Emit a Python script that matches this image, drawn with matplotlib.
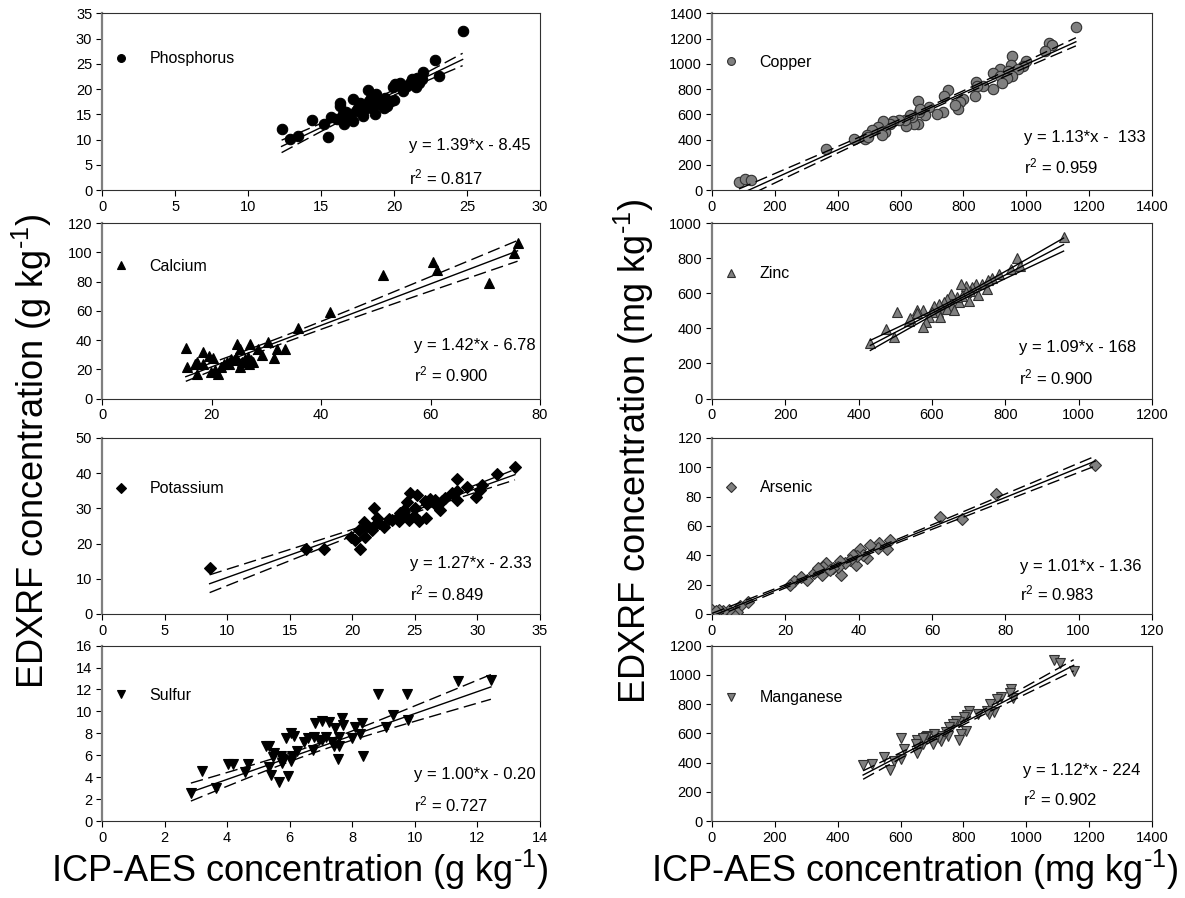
import numpy as np
import matplotlib
matplotlib.use("Agg")
from matplotlib import pyplot as plt

plt.rcParams['font.family'] = ['Liberation Sans', 'DejaVu Sans']
plt.rcParams['mathtext.default'] = 'regular'

# ------------------------------------------------------------------ data (g/kg)
p_x = [24.7, 22.8, 23.1, 12.3, 12.9, 13.4, 14.4, 15.2, 15.5, 15.7, 16.1, 16.3, 16.3,
       16.6, 16.7, 17.0, 17.2, 17.2, 17.5, 17.7, 17.9, 18.0, 18.2, 18.3, 18.4, 18.5,
       18.7, 18.8, 18.8, 19.1, 19.3, 19.4, 19.8, 19.9, 20.0, 20.1, 20.4, 20.6, 21.1,
       21.2, 21.5, 21.6, 21.9, 22.0, 16.5, 17.4, 17.9, 19.0, 19.5, 20.9, 21.7]
p_y = [31.5, 25.7, 22.7, 12.0, 10.2, 10.7, 13.8, 13.1, 10.6, 14.5, 14.0, 17.2, 16.7,
       13.0, 15.5, 14.3, 18.0, 13.7, 16.3, 17.3, 14.7, 16.0, 19.9, 17.7, 18.3, 16.3,
       15.0, 18.0, 19.0, 17.3, 16.3, 18.3, 17.7, 20.5, 17.8, 21.0, 21.3, 19.7, 21.3,
       22.0, 20.5, 22.2, 22.0, 23.3, 15.0, 15.7, 16.7, 17.0, 16.7, 20.7, 21.3]

ca_x = [75.9, 75.3, 70.7, 60.4, 61.2, 51.3, 41.6, 35.8, 33.5, 31.9, 31.4, 30.3, 29.3,
        28.4, 27.0, 27.3, 26.7, 25.6, 25.2, 24.7, 25.2, 24.4, 23.5, 22.9, 22.3, 21.7,
        21.1, 20.7, 20.3, 19.6, 18.5, 18.5, 17.4, 17.4, 17.0, 15.6, 15.3, 26.2, 24.1,
        23.2, 19.9, 26.9, 27.5]
ca_y = [106.4, 99.5, 79.3, 93.4, 87.7, 84.3, 59.0, 48.3, 34.2, 34.2, 28.0, 38.7, 29.6,
        34.2, 37.6, 26.2, 28.5, 25.1, 34.2, 37.1, 21.6, 28.5, 27.3, 25.1, 23.9, 21.6,
        17.1, 19.4, 28.0, 28.9, 31.9, 23.9, 16.6, 25.1, 23.9, 21.6, 34.6, 27.3, 26.2,
        23.9, 18.2, 23.9, 25.1]

k_x = [33.0, 31.6, 30.4, 30.2, 29.9, 29.2, 28.4, 28.4, 28.4, 28.0, 27.4, 27.0, 27.2,
       26.6, 26.2, 25.8, 25.9, 26.0, 25.3, 25.2, 25.0, 24.9, 24.6, 24.5, 24.4, 24.1,
       23.8, 23.7, 23.6, 22.9, 22.5, 22.1, 22.0, 21.8, 21.7, 21.6, 21.2, 21.0, 20.9,
       20.5, 20.6, 20.2, 19.9, 17.7, 16.3, 8.6, 26.6, 24.2, 23.2]
k_y = [41.7, 39.8, 36.7, 35.3, 33.1, 36.1, 38.3, 34.8, 32.4, 34.3, 32.9, 29.6, 32.0,
       32.4, 32.6, 32.0, 27.2, 31.1, 26.3, 33.9, 30.1, 27.9, 34.3, 26.8, 31.7, 29.6,
       28.7, 26.3, 27.2, 26.9, 24.6, 25.8, 27.2, 25.3, 30.1, 23.9, 24.9, 21.8, 26.0,
       23.9, 18.5, 21.1, 22.0, 18.5, 18.4, 13.0, 31.1, 28.1, 26.7]

s_x = [12.43, 11.37, 9.75, 8.82, 9.78, 9.29, 9.09, 8.33, 8.31, 8.10, 8.26, 7.99, 7.67,
       7.70, 7.57, 7.57, 7.55, 7.44, 7.36, 7.41, 7.27, 7.16, 7.04, 6.93, 6.82, 6.77,
       6.74, 6.59, 6.45, 6.24, 6.13, 6.03, 6.03, 5.95, 5.87, 5.78, 5.74, 5.66, 5.50,
       5.39, 5.34, 5.34, 5.23, 4.68, 4.57, 4.19, 4.04, 3.64, 3.19, 2.84, 5.45, 6.08,
       7.04, 5.71]
s_y = [12.9, 12.8, 11.6, 11.6, 9.2, 9.7, 8.6, 5.9, 8.9, 8.6, 7.9, 7.6, 9.4, 8.8, 7.7,
       6.8, 5.7, 8.5, 7.2, 6.8, 9.0, 7.7, 9.1, 7.4, 8.9, 7.7, 6.5, 7.6, 7.2, 6.4, 7.8,
       8.0, 5.5, 4.1, 7.6, 5.6, 5.3, 3.6, 6.2, 4.2, 6.8, 4.9, 6.8, 5.2, 4.5, 5.2, 5.2,
       3.0, 4.6, 2.6, 5.8, 5.9, 7.4, 5.9]

# ----------------------------------------------------------------- data (mg/kg)
cu_x = [1158, 1074, 1081, 1060, 954, 998, 952, 991, 975, 915, 893, 943, 917, 954, 938,
        922, 893, 863, 840, 842, 837, 798, 789, 784, 773, 752, 738, 734, 717, 692, 678,
        660, 656, 662, 656, 642, 638, 630, 619, 614, 596, 577, 566, 545, 550, 529, 542,
        508, 494, 487, 497, 453, 364, 86, 104, 123]
cu_y = [1295, 1166, 1150, 1100, 1066, 1026, 995, 987, 960, 960, 929, 940, 903, 908, 890,
        850, 803, 821, 855, 824, 742, 724, 697, 645, 676, 797, 745, 618, 605, 658, 597,
        618, 703, 645, 526, 526, 579, 592, 505, 553, 553, 545, 526, 545, 460, 500, 434,
        474, 434, 408, 421, 408, 324, 63, 89, 79]

zn_x = [959, 833, 815, 839, 783, 765, 753, 737, 751, 726, 719, 710, 705, 694, 680, 692,
        701, 683, 674, 667, 655, 651, 642, 632, 628, 618, 616, 623, 605, 600, 591, 585,
        575, 576, 559, 537, 541, 505, 476, 496, 432, 642, 660, 559]
zn_y = [921, 800, 738, 753, 709, 687, 675, 653, 624, 592, 653, 634, 615, 643, 653, 606,
        558, 587, 549, 581, 530, 596, 568, 549, 511, 540, 492, 464, 530, 492, 464, 436,
        506, 408, 506, 440, 458, 492, 398, 351, 317, 511, 502, 487]

as_x = [104.5, 77.6, 68.2, 62.3, 48.6, 47.7, 45.6, 45.4, 43.2, 42.2, 40.4, 41.3, 39.3,
        39.5, 38.4, 37.7, 36.3, 34.9, 35.1, 34.5, 33.1, 31.2, 30.4, 29.9, 29.9, 27.9,
        25.8, 24.4, 22.4, 21.3, 9.9, 7.6, 6.7, 5.7, 4.7, 3.0, 1.9, 0.1, 1.0, 32.2, 29.0]
as_y = [101.8, 82.0, 64.7, 66.1, 50.6, 44.2, 48.3, 44.9, 47.2, 38.0, 44.2, 40.3, 33.5,
        39.6, 40.3, 36.9, 34.6, 35.8, 26.7, 31.7, 31.2, 34.6, 32.3, 28.9, 26.7, 28.2,
        23.2, 25.5, 22.6, 19.8, 8.4, 5.5, 1.6, 0.0, 2.7, 2.1, 2.7, 2.7, 2.3, 30.1, 31.2]

mn_x = [1151, 1089, 1109, 957, 950, 947, 920, 907, 886, 897, 883, 875, 846, 819, 813,
        801, 808, 794, 785, 787, 776, 766, 755, 752, 744, 731, 728, 721, 707, 707, 704,
        684, 681, 673, 670, 664, 656, 654, 651, 648, 611, 600, 579, 566, 547, 508, 481,
        600, 670]
mn_y = [1024, 1102, 1079, 841, 903, 873, 850, 834, 800, 743, 731, 754, 731, 750, 722,
        709, 617, 594, 553, 674, 682, 663, 640, 583, 606, 583, 549, 571, 594, 549, 530,
        583, 576, 560, 526, 549, 491, 462, 553, 526, 491, 423, 411, 350, 439, 389, 382,
        571, 571]

# regression results printed in each panel
names = ["Phosphorus", "Calcium", "Potassium", "Sulfur",
         "Copper", "Zinc", "Arsenic", "Manganese"]
slopes = [1.39, 1.42, 1.27, 1.00, 1.13, 1.09, 1.01, 1.12]
intercepts = [-8.45, -6.78, -2.33, -0.20, -133, -168, -1.36, -224]
eq_text = ["y = 1.39*x - 8.45", "y = 1.42*x - 6.78", "y = 1.27*x - 2.33",
           "y = 1.00*x - 0.20", "y = 1.13*x -  133", "y = 1.09*x - 168",
           "y = 1.01*x - 1.36", "y = 1.12*x - 224"]
r2_text = ["0.817", "0.900", "0.849", "0.727", "0.959", "0.900", "0.983", "0.902"]
xmax = [30, 80, 35, 14, 1400, 1200, 120, 1400]
xstep = [5, 20, 5, 2, 200, 200, 20, 200]
ymax = [35, 120, 50, 16, 1400, 1000, 120, 1200]
ystep = [5, 20, 10, 2, 200, 200, 20, 200]

xs_all = [p_x, ca_x, k_x, s_x, cu_x, zn_x, as_x, mn_x]
ys_all = [p_y, ca_y, k_y, s_y, cu_y, zn_y, as_y, mn_y]

# ------------------------------------------------------------------- styling
markers = ['o', '^', 'D', 'v', 'o', '^', 'D', 'v']
msizes = [7.5, 7, 6.5, 7, 7.5, 7, 6.5, 7]
face = ['black'] * 4 + ['#808080'] * 4
edge = ['black'] * 4 + ['#303030'] * 4
band_ls = ['--', '--', '--', '--', '--', '-', '--', '--']
eq_pos = [(0.70, 0.25, 0.07), (0.712, 0.30, 0.137), (0.703, 0.284, 0.119),
          (0.712, 0.267, 0.097), (0.709, 0.298, 0.135), (0.698, 0.29, 0.12),
          (0.70, 0.267, 0.119), (0.707, 0.286, 0.131)]
leg_y = [0.743, 0.754, 0.71, 0.716, 0.725, 0.71, 0.716, 0.703]

col_left = [0.0861, 0.6008]
col_w = [0.3696, 0.3713]
row_bottom = [0.7884, 0.5562, 0.3163, 0.0857]
row_h = [0.1966, 0.1954, 0.196, 0.1954]

HY = "\u2010"   # plain hyphen for the "-1" exponent


def conf_band(x, y, slope, icpt, xs, t=2.0):
    x = np.asarray(x, float)
    y = np.asarray(y, float)
    n = len(x)
    resid = y - (slope * x + icpt)
    s = np.sqrt(np.sum(resid ** 2) / (n - 2))
    xm = x.mean()
    sxx = np.sum((x - xm) ** 2)
    return t * s * np.sqrt(1.0 / n + (xs - xm) ** 2 / sxx)


fig = plt.figure(figsize=(11.85, 8.98), dpi=100)

for i in range(8):
    col, row = divmod(i, 4)
    ax = fig.add_axes([col_left[col], row_bottom[row], col_w[col], row_h[row]])
    x = np.asarray(xs_all[i], float)
    y = np.asarray(ys_all[i], float)

    ax.plot(x, y, linestyle='none', marker=markers[i], ms=msizes[i],
            mfc=face[i], mec=edge[i], mew=0.8, label=names[i], zorder=3)

    xs = np.linspace(x.min(), x.max(), 100)
    fit = slopes[i] * xs + intercepts[i]
    half = conf_band(x, y, slopes[i], intercepts[i], xs)
    ax.plot(xs, fit, color='black', lw=1.0, zorder=4)
    dash = dict(dashes=(9, 4)) if band_ls[i] == '--' else {}
    ax.plot(xs, fit + half, color='black', lw=1.0, zorder=4, **dash)
    ax.plot(xs, fit - half, color='black', lw=1.0, zorder=4, **dash)

    ax.set_xlim(0, xmax[i])
    ax.set_ylim(0, ymax[i])
    ax.set_xticks(np.arange(0, xmax[i] + xstep[i] / 2, xstep[i]))
    ax.set_yticks(np.arange(0, ymax[i] + ystep[i] / 2, ystep[i]))
    ax.tick_params(direction='out', length=4, width=0.8, labelsize=10.5, pad=3,
                   top=False, right=False)
    ax.spines['left'].set_color('#7f7f7f')
    ax.spines['left'].set_linewidth(1.6)
    for side in ['top', 'right', 'bottom']:
        ax.spines[side].set_color('#303030')
        ax.spines[side].set_linewidth(0.8)

    ex, ey, ry = eq_pos[i]
    ax.text(ex, ey, eq_text[i], transform=ax.transAxes, ha='left', va='center',
            fontsize=12)
    ax.text(ex, ry, "r$^2$ = " + r2_text[i], transform=ax.transAxes, ha='left',
            va='center', fontsize=12)

    ax.legend(loc='center left', bbox_to_anchor=(0.025, leg_y[i]), frameon=False,
              markerscale=0.75, handlelength=1.0, handletextpad=1.3, borderpad=0,
              borderaxespad=0, numpoints=1, fontsize=11.5)

fig.text(0.027, 0.498, "EDXRF concentration (g kg$^{" + HY + "1}$)", rotation=90,
         ha='center', va='center', fontsize=26)
fig.text(0.535, 0.497, "EDXRF concentration (mg kg$^{" + HY + "1}$)", rotation=90,
         ha='center', va='center', fontsize=26)
fig.text(0.253, 0.031, "ICP-AES concentration (g kg$^{" + HY + "1}$)",
         ha='center', va='center', fontsize=26)
fig.text(0.772, 0.031, "ICP-AES concentration (mg kg$^{" + HY + "1}$)",
         ha='center', va='center', fontsize=26)

fig.savefig("out.png", dpi=100)
